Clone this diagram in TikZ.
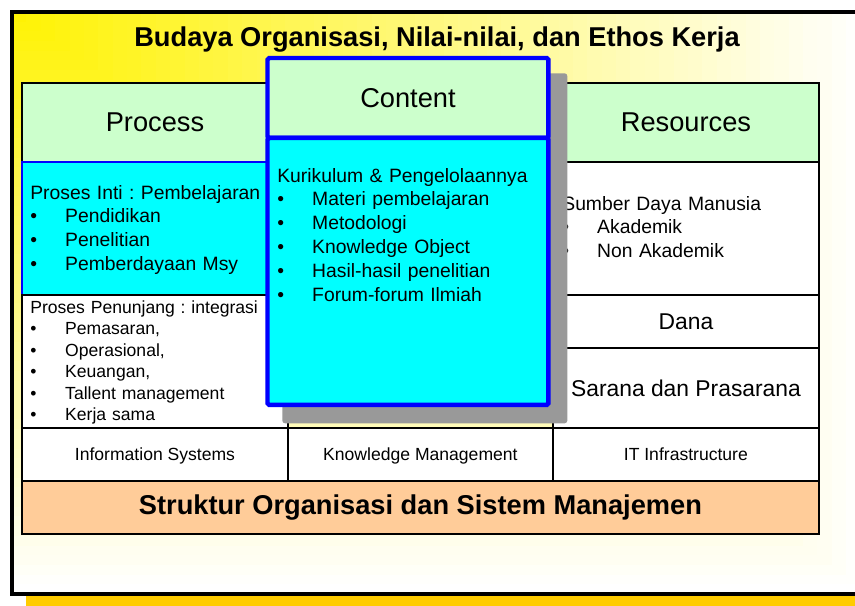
\documentclass[tikz,border=0pt]{standalone}
\usepackage{fontspec}
\setmainfont{Liberation Sans}
\usepackage{xcolor}
\usetikzlibrary{positioning}
\frenchspacing

\definecolor{hdrgreen}{HTML}{CCFFCC}
\definecolor{corecyan}{HTML}{00FFFF}
\definecolor{edgeblue}{HTML}{0000FF}
\definecolor{baseorange}{HTML}{FFCC99}
\definecolor{dropgray}{HTML}{999999}
\definecolor{dropyellow}{HTML}{FFCC00}

\newcommand{\bul}[1]{\makebox[19.85pt][l]{\textbullet}#1}

\begin{document}
\begin{tikzpicture}[
  x=0.02cm, y=-0.02cm,
  cell/.style={draw=black, line width=0.8pt, inner sep=0pt, outer sep=0pt},
  hdr/.style={cell, fill=hdrgreen, font=\fontsize{15.5}{18}\selectfont},
  itemlist/.style={anchor=base west, inner sep=0pt, align=left, text width=6cm,
                   font=\fontsize{11}{13.6}\selectfont},
  smalllist/.style={itemlist, font=\fontsize{10}{12.25}\selectfont},
  banner/.style={font=\bfseries\fontsize{15.5}{18}\selectfont},
  rowcell/.style={cell, fill=white, font=\fontsize{10}{12}\selectfont,
                  minimum height=1.06cm, text height=0.716em, text depth=0pt},
]
\useasboundingbox (0,0) rectangle (855,605);

% === Frame with yellow corner fade ===
\fill[dropyellow] (26,26) rectangle (890,612);
\coordinate (fnw) at (12,12);
\fill[white] (fnw) rectangle (875,594);
\foreach \k in {60,...,1}{
  \pgfmathtruncatemacro{\pct}{100-100*\k/60}
  \fill[yellow!\pct!white] (fnw) rectangle ++({\k/60*863},{\k/60*582});
}
\draw[line width=2.3pt] (fnw) rectangle (875,594);

\node[banner, anchor=base] (title) at (437,46.5)
  {Budaya Organisasi, Nilai-nilai, dan Ethos Kerja};

% === Column 1: Process ===
\node[hdr, anchor=north west, minimum width=5.32cm, minimum height=1.58cm]
  (process) at (22,83) {Process};
\node[cell, draw=edgeblue, fill=corecyan, minimum width=5.32cm,
      minimum height=2.66cm, below=0pt of process] (inti) {};
\node[cell, fill=white, minimum width=5.32cm, minimum height=2.66cm,
      below=0pt of inti] (penunjang) {};

\node[itemlist] (intitext) at (30,199)
  {Proses Inti : Pembelajaran\\
   \bul{Pendidikan}\\
   \bul{Penelitian}\\
   \bul{Pemberdayaan Msy}};
\node[smalllist] (penunjangtext) at (30,313)
  {Proses Penunjang : integrasi\\
   \bul{Pemasaran,}\\
   \bul{Operasional,}\\
   \bul{Keuangan,}\\
   \bul{Tallent management}\\
   \bul{Kerja sama}};

% === Column 3: Resources ===
\node[hdr, anchor=north west, minimum width=5.32cm, minimum height=1.58cm]
  (resources) at (553,83) {Resources};
\node[cell, fill=white, minimum width=5.32cm, minimum height=2.66cm,
      below=0pt of resources] (sdm) {};
\node[cell, fill=white, font=\fontsize{13}{15}\selectfont, minimum width=5.32cm,
      minimum height=1.06cm, below=0pt of sdm] (dana) {Dana};
\node[cell, fill=white, font=\fontsize{13}{15}\selectfont, minimum width=5.32cm,
      minimum height=1.6cm, below=0pt of dana] (sarana) {Sarana dan Prasarana};

\node[itemlist] (sdmtext) at (562,210)
  {Sumber Daya Manusia\\
   \bul{Akademik}\\
   \bul{Non Akademik}};

% === Bottom rows ===
\node[rowcell, minimum width=5.32cm, below=0pt of penunjang] (infosys)
  {Information Systems};
\node[rowcell, minimum width=5.30cm, right=0pt of infosys] (knowmgmt)
  {Knowledge Management};
\node[rowcell, minimum width=5.32cm, right=0pt of knowmgmt] (itinfra)
  {IT Infrastructure};
\node[cell, fill=baseorange, banner, minimum width=15.94cm, minimum height=1.06cm,
      below=0pt of knowmgmt] (struktur)
  {Struktur Organisasi dan Sistem Manajemen};

% === Column 2: Content (shadow, then box) ===
\node[fill=dropgray, rounded corners=1.5pt, inner sep=0pt, minimum width=5.7cm,
      minimum height=7cm, anchor=north west] (contentshadow) at (282,73) {};
\node[hdr, draw=edgeblue, line width=2.55pt, rounded corners=1pt,
      anchor=north west, minimum width=5.62cm, minimum height=1.6cm]
  (content) at (267.5,58) {Content};
\node[cell, draw=edgeblue, line width=2.55pt, fill=corecyan, rounded corners=1pt,
      minimum width=5.62cm, minimum height=5.34cm, below=0pt of content]
  (contentbody) {};

\node[itemlist] (contenttext) at (277,182)
  {Kurikulum \& Pengelolaannya\\
   \bul{Materi pembelajaran}\\
   \bul{Metodologi}\\
   \bul{Knowledge Object}\\
   \bul{Hasil-hasil penelitian}\\
   \bul{Forum-forum Ilmiah}};

\end{tikzpicture}
\end{document}
